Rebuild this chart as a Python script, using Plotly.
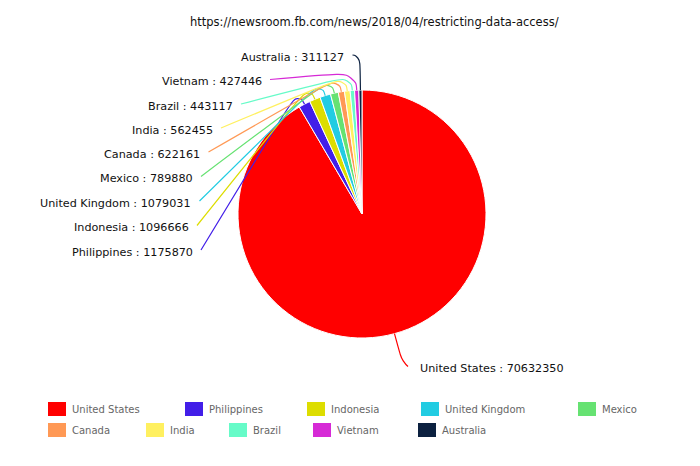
import math
import plotly.graph_objects as go

# ---------------- data ----------------
countries = ["United States", "Philippines", "Indonesia", "United Kingdom", "Mexico",
             "Canada", "India", "Brazil", "Vietnam", "Australia"]
users = [70632350, 1175870, 1096666, 1079031, 789880,
         622161, 562455, 443117, 427446, 311127]
colors = ["#ff0000", "#421ee8", "#dddd00", "#22cce2", "#66e272",
          "#ff9955", "#fff060", "#66fbc8", "#d62ad6", "#0c2140"]
title_text = "https://newsroom.fb.com/news/2018/04/restricting-data-access/"

# ---------------- layout constants (pixels) ----------------
W, H = 700, 466
CX, CY, R = 362, 214, 124
# label text anchor (right edge for left labels, left edge for right label) and centre y
label_x = [418, 194.5, 190.5, 193, 194.5, 202, 214.5, 234.5, 263.5, 346]
label_y = [368, 252, 227.5, 203, 178.5, 154, 130, 106, 81.5, 57]
line_ext = [29, 15, 15, 15, 15, 15, 15, 15, 18, 34]
legend_x = [48, 185, 307, 421, 578, 48, 146, 229, 313, 418]
legend_y = [409, 409, 409, 409, 409, 430, 430, 430, 430, 430]

fig = go.Figure()

# invisible trace to create pixel-space axes
fig.add_trace(go.Scatter(x=[0, W], y=[0, H], mode="markers",
                         marker=dict(opacity=0), hoverinfo="skip", showlegend=False))

fig.add_trace(go.Pie(
    labels=countries, values=users, sort=False, direction="clockwise", rotation=0,
    marker=dict(colors=colors, line=dict(color="#ffffff", width=1)),
    textinfo="none", showlegend=False,
    domain=dict(x=[(CX - R) / W, (CX + R) / W], y=[1 - (CY + R) / H, 1 - (CY - R) / H]),
))

total = float(sum(users))
shapes = []
annotations = []


def leader_path(p0, p1, p2, s=0.6):
    l1 = math.dist(p0, p1)
    l2 = math.dist(p1, p2)
    m = min(l1, l2) * s
    mp0 = (p1[0] + (p0[0] - p1[0]) * m / l1, p1[1] + (p0[1] - p1[1]) * m / l1)
    mp2 = (p1[0] + (p2[0] - p1[0]) * m / l2, p1[1] + (p2[1] - p1[1]) * m / l2)
    mp1 = ((mp0[0] + mp2[0]) / 2, (mp0[1] + mp2[1]) / 2)
    f = lambda p: f"{p[0]:.2f},{p[1]:.2f}"
    return (f"M {f(p0)} C {f(mp0)} {f(mp0)} {f(mp1)} "
            f"C {f(mp2)} {f(mp2)} {f(p2)}")


cum = 0.0
for i, (name, val, col) in enumerate(zip(countries, users, colors)):
    frac = val / total
    mid = (cum + frac / 2) * 2 * math.pi
    cum += frac
    dx, dy = math.sin(mid), -math.cos(mid)
    p0 = (CX + R * dx, CY + R * dy)
    p1 = (CX + (R + line_ext[i]) * dx, CY + (R + line_ext[i]) * dy)
    right_side = dx > 0
    if right_side:
        p2 = (408, label_y[i] - 1.5)
    else:
        p2 = (label_x[i] + 6.5, label_y[i] - 2)
    shapes.append(dict(type="path", xref="x", yref="y", path=leader_path(p0, p1, p2),
                       line=dict(color=col, width=1.2), layer="above"))
    annotations.append(dict(
        x=label_x[i], y=label_y[i], xref="x", yref="y",
        text=f"{name} : {val}", showarrow=False,
        xanchor="left" if right_side else "right", yanchor="middle",
        font=dict(family="DejaVu Sans", size=11.2, color="#111111")))

# legend
for i, (name, col) in enumerate(zip(countries, colors)):
    shapes.append(dict(type="rect", xref="x", yref="y",
                       x0=legend_x[i], x1=legend_x[i] + 18,
                       y0=legend_y[i] - 7, y1=legend_y[i] + 7,
                       fillcolor=col, line=dict(width=0), layer="above"))
    annotations.append(dict(
        x=legend_x[i] + 22, y=legend_y[i], xref="x", yref="y",
        text=name, showarrow=False, xanchor="left", yanchor="middle",
        font=dict(family="DejaVu Sans", size=10, color="#666666")))

annotations.append(dict(
    x=374, y=22, xref="x", yref="y", text=title_text, showarrow=False,
    xanchor="center", yanchor="middle",
    font=dict(family="DejaVu Sans", size=11.5, color="#111111")))

fig.update_layout(
    width=W, height=H, margin=dict(l=0, r=0, t=0, b=0),
    paper_bgcolor="#ffffff", plot_bgcolor="#ffffff",
    xaxis=dict(range=[0, W], visible=False, fixedrange=True),
    yaxis=dict(range=[H, 0], visible=False, fixedrange=True),
    shapes=shapes, annotations=annotations, showlegend=False,
)

fig.write_html("out.html")
